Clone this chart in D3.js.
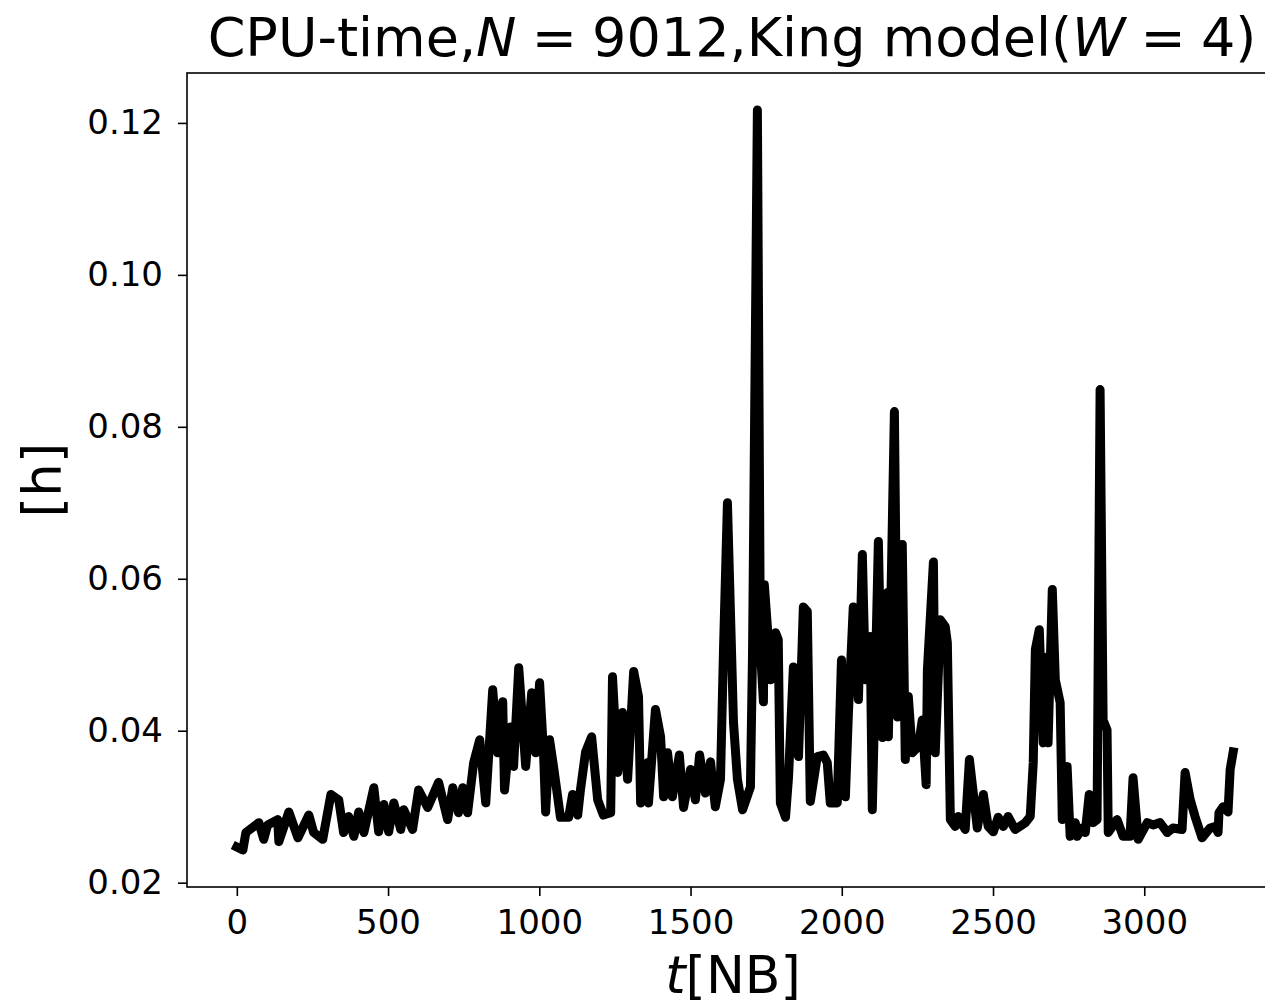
<!DOCTYPE html>
<html>
<head>
<meta charset="utf-8">
<script src="https://cdn.jsdelivr.net/npm/d3@7"></script>
<style>
  body { margin: 0; background: #fff; }
  svg { display: block; font-family: "DejaVu Sans", sans-serif; }
</style>
</head>
<body>
<div id="chart"></div>
<script>
// time in NB units
var tValues = [0, 20, 30, 73, 89, 102, 135, 139, 172, 202, 238, 254, 284, 311, 337, 353, 370, 387, 403, 420,
  453, 469, 486, 502, 519, 542, 552, 581, 601, 631, 667, 697, 714, 733, 747, 763, 783, 803, 823, 846,
  862, 879, 885, 905, 915, 932, 955, 975, 988, 1001, 1014, 1021, 1034, 1047, 1070, 1097, 1110, 1127, 1136, 1153,
  1173, 1193, 1212, 1236, 1242, 1259, 1275, 1292, 1312, 1328, 1335, 1358, 1361, 1384, 1401, 1411, 1424, 1440, 1463, 1477,
  1500, 1516, 1530, 1549, 1566, 1582, 1599, 1609, 1622, 1642, 1655, 1672, 1698, 1705, 1721, 1731, 1741, 1744, 1754, 1764,
  1781, 1790, 1797, 1814, 1824, 1840, 1857, 1873, 1886, 1896, 1919, 1939, 1952, 1962, 1985, 1999, 2012, 2022, 2038, 2055,
  2068, 2078, 2094, 2101, 2121, 2134, 2151, 2154, 2174, 2184, 2200, 2210, 2220, 2233, 2253, 2266, 2279, 2283, 2303, 2309,
  2326, 2342, 2349, 2359, 2375, 2385, 2408, 2422, 2448, 2468, 2484, 2501, 2517, 2534, 2550, 2573, 2607, 2623, 2633, 2640,
  2653, 2666, 2679, 2682, 2696, 2706, 2722, 2729, 2745, 2755, 2772, 2778, 2795, 2805, 2818, 2831, 2844, 2854, 2864, 2877,
  2881, 2910, 2930, 2953, 2963, 2980, 3010, 3029, 3052, 3076, 3095, 3125, 3135, 3152, 3168, 3191, 3218, 3234, 3244, 3247,
  3261, 3277, 3284, 3294];

// CPU time per step in hours
var hValues = [0.0247, 0.0243, 0.0266, 0.0279, 0.0257, 0.0276, 0.0283, 0.0254, 0.0293, 0.0259, 0.0289, 0.0266, 0.0257, 0.0316, 0.0309, 0.0266, 0.0287, 0.0261, 0.0293, 0.0266,
  0.0325, 0.0267, 0.0303, 0.0267, 0.0305, 0.0270, 0.0296, 0.0270, 0.0322, 0.0299, 0.0332, 0.0283, 0.0325, 0.0292, 0.0325, 0.0292, 0.0358, 0.0388, 0.0305, 0.0454,
  0.0371, 0.0438, 0.0322, 0.0405, 0.0353, 0.0483, 0.0353, 0.0450, 0.0371, 0.0463, 0.0371, 0.0293, 0.0388, 0.0353, 0.0286, 0.0286, 0.0316, 0.0289, 0.0322, 0.0372,
  0.0392, 0.0309, 0.0289, 0.0292, 0.0471, 0.0345, 0.0424, 0.0336, 0.0478, 0.0445, 0.0305, 0.0358, 0.0305, 0.0428, 0.0392, 0.0313, 0.0371, 0.0313, 0.0368, 0.0299,
  0.0349, 0.0309, 0.0368, 0.0318, 0.0359, 0.0300, 0.0336, 0.0507, 0.0700, 0.0411, 0.0336, 0.0296, 0.0326, 0.0503, 0.1217, 0.0507, 0.0438, 0.0592, 0.0537, 0.0467,
  0.0529, 0.0520, 0.0305, 0.0286, 0.0339, 0.0484, 0.0366, 0.0563, 0.0557, 0.0307, 0.0366, 0.0368, 0.0358, 0.0305, 0.0305, 0.0493, 0.0313, 0.0424, 0.0563, 0.0441,
  0.0632, 0.0467, 0.0524, 0.0296, 0.0649, 0.0391, 0.0582, 0.0392, 0.0820, 0.0418, 0.0645, 0.0362, 0.0445, 0.0371, 0.0379, 0.0414, 0.0329, 0.0480, 0.0622, 0.0371,
  0.0546, 0.0537, 0.0516, 0.0283, 0.0274, 0.0287, 0.0270, 0.0362, 0.0272, 0.0316, 0.0274, 0.0267, 0.0286, 0.0274, 0.0287, 0.0270, 0.0279, 0.0287, 0.0358, 0.0507,
  0.0533, 0.0384, 0.0497, 0.0384, 0.0586, 0.0467, 0.0437, 0.0283, 0.0353, 0.0261, 0.0279, 0.0261, 0.0272, 0.0266, 0.0316, 0.0279, 0.0283, 0.0849, 0.0414, 0.0401,
  0.0266, 0.0283, 0.0261, 0.0261, 0.0338, 0.0257, 0.0279, 0.0276, 0.0279, 0.0266, 0.0272, 0.0270, 0.0345, 0.0309, 0.0287, 0.0259, 0.0272, 0.0274, 0.0266, 0.0292,
  0.0300, 0.0293, 0.0349, 0.0372];

var xTicks = [0, 500, 1000, 1500, 2000, 2500, 3000];
var yTicks = [0.02, 0.04, 0.06, 0.08, 0.10, 0.12];

var W = 1265, H = 1005;
var plot = {left: 187, right: 1283, top: 73, bottom: 887};

var svg = d3.select("#chart").append("svg")
    .attr("width", W)
    .attr("height", H);

var data = tValues.map(function(t, i) { return {t: t, h: hValues[i]}; });

// matplotlib-like 5% margins
var tExt = d3.extent(tValues), hExt = d3.extent(hValues);
var tPad = (tExt[1] - tExt[0]) * 0.05, hPad = (hExt[1] - hExt[0]) * 0.05;

var x = d3.scaleLinear()
    .domain([tExt[0] - tPad, tExt[1] + tPad])
    .range([plot.left, plot.right]);
var y = d3.scaleLinear()
    .domain([hExt[0] - hPad, hExt[1] + hPad])
    .range([plot.bottom, plot.top]);

var line = d3.line()
    .x(function(d) { return x(d.t); })
    .y(function(d) { return y(d.h); });

svg.append("defs").append("clipPath").attr("id", "clip")
  .append("rect")
    .attr("x", plot.left).attr("y", plot.top)
    .attr("width", plot.right - plot.left).attr("height", plot.bottom - plot.top);

svg.append("path")
    .datum(data)
    .attr("clip-path", "url(#clip)")
    .attr("fill", "none")
    .attr("stroke", "#000")
    .attr("stroke-width", 9)
    .attr("stroke-linejoin", "round")
    .attr("stroke-linecap", "square")
    .attr("d", line);

// axes
var xAxis = svg.append("g")
    .attr("transform", "translate(0," + plot.bottom + ")")
    .call(d3.axisBottom(x).tickValues(xTicks).tickFormat(d3.format("d")).tickSize(9).tickPadding(14));
var yAxis = svg.append("g")
    .attr("transform", "translate(" + plot.left + ",0)")
    .call(d3.axisLeft(y).tickValues(yTicks).tickFormat(d3.format(".2f")).tickSize(9).tickPadding(15));

[xAxis, yAxis].forEach(function(g) {
  g.select(".domain").remove();
  g.selectAll("line").attr("stroke", "#000").attr("stroke-width", 1.6);
  g.selectAll("text")
    .attr("fill", "#000")
    .style("font-family", "DejaVu Sans")
    .style("font-size", "34px");
});

// frame
svg.append("rect")
    .attr("x", plot.left).attr("y", plot.top)
    .attr("width", plot.right - plot.left).attr("height", plot.bottom - plot.top)
    .attr("fill", "none")
    .attr("stroke", "#000")
    .attr("stroke-width", 1.6);

// title
var title = svg.append("text")
    .attr("x", (plot.left + plot.right) / 2 - 3)
    .attr("y", 56)
    .attr("text-anchor", "middle")
    .style("font-size", "54px");
title.append("tspan").text("CPU-time,");
title.append("tspan").style("font-style", "italic").text("N");
title.append("tspan").attr("dx", -2).text(" = ");
title.append("tspan").attr("dx", -2).text("9012,King model(");
title.append("tspan").style("font-style", "italic").text("W");
title.append("tspan").attr("dx", -2).text(" = ");
title.append("tspan").attr("dx", -2).text("4)");

// x label
var xl = svg.append("text")
    .attr("x", (plot.left + plot.right) / 2 - 2)
    .attr("y", 993)
    .attr("text-anchor", "middle")
    .style("font-size", "52px");
xl.append("tspan").style("font-style", "italic").text("t");
xl.append("tspan").text("[NB]");

// y label
svg.append("text")
    .attr("transform", "translate(61," + (plot.top + plot.bottom) / 2 + ") rotate(-90)")
    .attr("text-anchor", "middle")
    .style("font-size", "53px")
    .text("[h]");
</script>
</body>
</html>
